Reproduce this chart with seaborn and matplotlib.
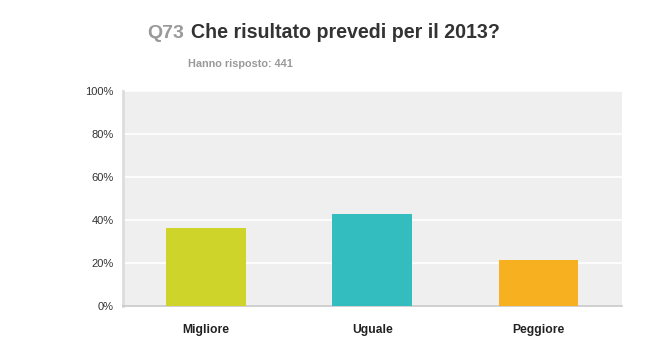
import pandas as pd
import matplotlib
matplotlib.use("Agg")
import matplotlib.pyplot as plt
import seaborn as sns

# --- Data ---
categories = ["Migliore", "Uguale", "Peggiore"]
percentages = [36.1, 42.6, 21.4]
bar_colors = ["#CFD42A", "#33BDBE", "#F6B020"]
y_ticks = [0, 20, 40, 60, 80, 100]
y_tick_labels = ["0%", "20%", "40%", "60%", "80%", "100%"]

df = pd.DataFrame({"risposta": categories, "percentuale": percentages})

sns.set_style("white", {"axes.facecolor": "#EFEFEF"})
plt.rcParams["font.family"] = ["Liberation Sans", "DejaVu Sans"]

fig = plt.figure(figsize=(6.5, 3.6), dpi=100)
ax = fig.add_axes([0.1888, 0.1508, 0.7677, 0.5978])

sns.barplot(data=df, x="risposta", y="percentuale", hue="risposta",
            palette=bar_colors, width=0.48, legend=False, ax=ax,
            saturation=1, linewidth=0, zorder=3)

ax.set_ylim(0, 100)
ax.set_xlim(-0.5, 2.5)
ax.set_yticks(y_ticks)
ax.set_yticklabels(y_tick_labels, fontsize=8, color="#333333")
ax.yaxis.grid(True, color="white", linewidth=1.2, zorder=0)
ax.set_axisbelow(True)
ax.tick_params(axis="y", length=0, pad=6.5)
ax.tick_params(axis="x", length=0, pad=13)
for lbl in ax.get_xticklabels():
    lbl.set_fontweight("bold")
    lbl.set_fontsize(8.7)
    lbl.set_color("#222222")
ax.set_xlabel("")
ax.set_ylabel("")

for side in ["top", "right"]:
    ax.spines[side].set_visible(False)
ax.spines["left"].set_color("#DDDDDD")
ax.spines["left"].set_linewidth(2)
ax.spines["bottom"].set_color("#C8C8C8")
ax.spines["bottom"].set_linewidth(1.2)

# --- Title ---
fig.text(147 / 650, 1 - 38 / 360, "Q73", fontsize=14, fontweight="bold",
         color="#999999", va="baseline", ha="left")
fig.text(191 / 650, 1 - 38 / 360, "Che risultato prevedi per il 2013?",
         fontsize=14.1, fontweight="bold", color="#333333", va="baseline", ha="left")
fig.text(188 / 650, 1 - 67 / 360, "Hanno risposto: 441", fontsize=7.8,
         fontweight="bold", color="#999999", va="baseline", ha="left")

fig.savefig("out.png", dpi=100)
